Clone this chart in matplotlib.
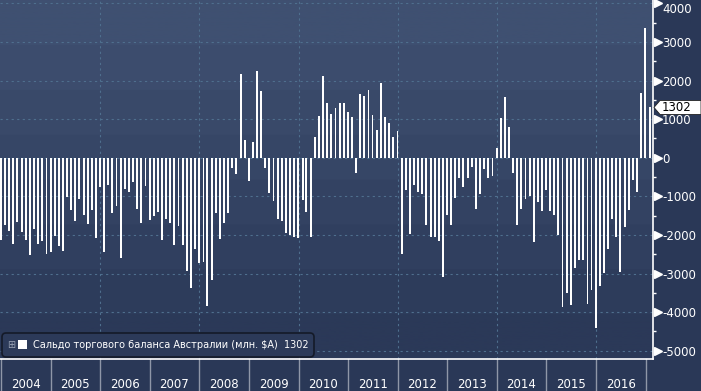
import numpy as np
import pandas as pd
import matplotlib
matplotlib.use("Agg")
import matplotlib.pyplot as plt
import matplotlib.dates as mdates
import matplotlib.transforms as mtransforms
from matplotlib.colors import LinearSegmentedColormap
from matplotlib.patches import FancyBboxPatch, Polygon, Rectangle

plt.rcParams['axes.unicode_minus'] = False

# Сальдо торгового баланса Австралии, млн. $A, помесячно (дек. 2003 - янв. 2017)
balance = [
    -2120, -1750, -1900, -2240, -1670, -1930, -2130, -2520, -1850, -2240, -2160, -2500,
    -2450, -2030, -2290, -2420, -1020, -1360, -1640, -1080, -1490, -1720, -1360, -2080,
    -760, -2450, -710, -1430, -1250, -2600, -810, -890, -630, -1330, -1690, -730,
    -1620, -1510, -1410, -2130, -1590, -1690, -2260, -1770, -2260, -2940, -3380, -2370,
    -2730, -2700, -3850, -3170, -1430, -2110, -1700, -1430, -270, -420, 2160, 450,
    -605, 400, 2240, 1720, -270, -920, -1120, -1590, -1640, -1950, -2000, -2060,
    -2080, -1100, -1410, -2060, 530, 1070, 2110, 1430, 1120, 1280, 1430, 1430,
    1180, 1050, -400, 1640, 1590, 1750, 1100, 710, 1930, 1050, 890, 530,
    680, -2500, -840, -1980, -710, -890, -940, -1750, -2060, -2060, -2160, -3090,
    -1490, -1750, -1050, -530, -760, -530, -240, -1330, -940, -290, -530, -480,
    240, 1020, 1560, 790, -400, -1750, -1330, -1070, -990, -2190, -1150, -1380,
    -840, -1370, -1490, -2000, -3860, -3510, -3810, -2860, -2650, -2650, -3790, -3430,
    -4420, -3330, -2990, -2370, -1590, -2060, -2960, -1800, -1360, -580, -890, 1670,
    3350, 1302,
]
months = pd.date_range('2003-12-31', periods=len(balance), freq='ME')
year_labels = [str(y) for y in range(2004, 2017)]
series_name = 'Сальдо торгового баланса Австралии (млн. $A)'

W, H = 701, 391
bg = '#2a3857'

fig = plt.figure(figsize=(W / 100, H / 100), dpi=100, facecolor=bg)
ax = fig.add_axes([0, 32 / H, 653 / W, 359 / H])

# background gradient (banded like the terminal)
cmap = LinearSegmentedColormap.from_list('bb', ['#2b3958', '#3f5071'])
grad = np.floor(np.linspace(0, 1, 400) * 8) / 7
ax.imshow(grad.reshape(-1, 1), extent=[0, 1, 0, 1], transform=ax.transAxes,
          aspect='auto', cmap=cmap, origin='lower', zorder=0, vmin=0, vmax=1)

x = mdates.date2num(months)
ax.bar(x, balance, width=14, color='white', zorder=3, linewidth=0)

x_left = x[0] - 7.4
x_right = x[0] + 4805
ax.set_xlim(x_left, x_right)
ax.set_ylim(-5215, 4086)

# grid
for v in range(-5000, 4001, 1000):
    ax.axhline(v, color='#4f6f8e', lw=0.8, dashes=(2, 3), zorder=1)
for yr in range(2006, 2017, 2):
    ax.axvline(mdates.date2num(pd.Timestamp(f'{yr}-01-01')), color='#4f6f8e',
               lw=0.8, dashes=(2, 3), zorder=1)

# spines
for s in ['left', 'top']:
    ax.spines[s].set_visible(False)
ax.spines['right'].set_color('white')
ax.spines['bottom'].set_color('white')
ax.spines['right'].set_linewidth(1.2)
ax.spines['bottom'].set_linewidth(1.2)

ax.set_xticks([])
ax.yaxis.tick_right()
ax.set_yticks(range(-5000, 4001, 1000))
ax.set_yticks(range(-4500, 4001, 1000), minor=True)
ax.tick_params(axis='y', which='major', length=0, pad=6.5, labelsize=8.5,
               labelcolor='white')
ax.tick_params(axis='y', which='minor', length=2.5, width=1, color='white',
               direction='out')
ylabels = ax.get_yticklabels()
for lbl in ylabels:
    lbl.set_horizontalalignment('left')
ylabels[-1].set_verticalalignment('top')

# arrow-style major ticks
ytr = ax.get_yaxis_transform()
ax.plot([1 + 4.5 / 653] * 10, list(range(-5000, 4001, 1000)), ls='none',
        marker='>', ms=5.5, color='white', transform=ytr, clip_on=False, zorder=5)

# year separators and labels under the axis
btr = mtransforms.blended_transform_factory(ax.transData, fig.transFigure)
for yr in range(2004, 2018):
    xs = mdates.date2num(pd.Timestamp(f'{yr}-01-01'))
    ax.plot([xs, xs], [0, 32 / H], color='#8f97a8', lw=1, transform=btr,
            clip_on=False)
for lab in year_labels:
    xm = mdates.date2num(pd.Timestamp(f'{lab}-07-01'))
    ax.text(xm, 6 / H, lab, transform=btr, ha='center', va='center',
            color='white', fontsize=8.5)

# last value tag on the right axis
fig.canvas.draw()
ident = mtransforms.IdentityTransform()
yd = ax.transData.transform((x[-1], balance[-1]))[1]
tag = Polygon([(654, yd), (660, yd + 7), (701, yd + 7), (701, yd - 7), (660, yd - 7)],
              closed=True, facecolor='white', edgecolor='#222222', lw=0.6,
              transform=ident, zorder=10)
fig.patches.append(tag)
fig.text(662 / W, yd / H, f'{balance[-1]}', color='black', fontsize=8.5,
         va='center', ha='left', zorder=12)

# legend box
leg = FancyBboxPatch((2, H - 357), 312, 24, boxstyle='round,pad=0,rounding_size=4',
                     facecolor='#2c3a59', edgecolor='#141a28', lw=1.2,
                     transform=ident, zorder=10)
fig.patches.append(leg)
fig.text(11 / W, (H - 345) / H, '⊞', color='#9aa3b5', fontsize=7,
         ha='center', va='center', zorder=12)
sq = Rectangle((18, H - 349), 9, 9, facecolor='white', edgecolor='none',
               transform=ident, zorder=11)
fig.patches.append(sq)
fig.text(33 / W, (H - 345) / H, f'{series_name}  {balance[-1]}', color='white',
         fontsize=7, ha='left', va='center', zorder=12)

fig.savefig('out.png', dpi=100, facecolor=bg)
